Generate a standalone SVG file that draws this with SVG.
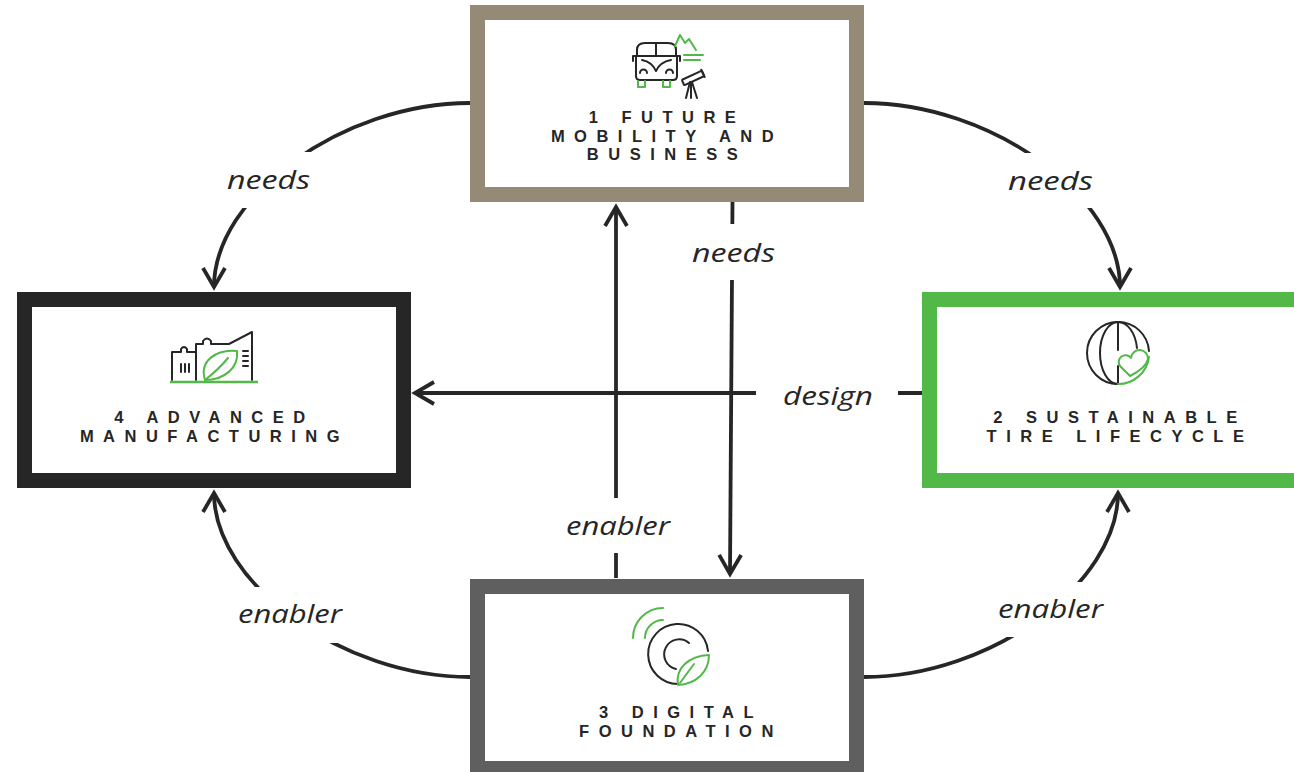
<svg xmlns="http://www.w3.org/2000/svg" width="1294" height="772" viewBox="0 0 1294 772">
<style>
.box{fill:#fff;stroke-width:15}
.title{font-family:"Liberation Sans",Arial,sans-serif;font-weight:bold;font-size:16.5px;letter-spacing:9.5px;fill:#262626;text-anchor:middle}
.lbl{font-family:"Open Sans","Liberation Sans",sans-serif;font-style:italic;font-weight:400;font-size:25px;fill:#262626;text-anchor:middle}
.con{fill:none;stroke:#262626;stroke-width:3.8}
.halo{fill:#fff}
.ik{fill:none;stroke:#262626;stroke-width:2;stroke-linecap:round;stroke-linejoin:round}
.ig{fill:none;stroke:#52b848;stroke-width:2;stroke-linecap:round;stroke-linejoin:round}
</style>
<defs>
<marker id="arr" markerUnits="userSpaceOnUse" markerWidth="30" markerHeight="30" viewBox="-25 -15 30 30" refX="0" refY="0" orient="auto" overflow="visible">
<path d="M-19,-11 L0,0 L-19,11" fill="none" stroke="#262626" stroke-width="3.8"/>
</marker>
</defs>
<rect width="1294" height="772" fill="#fff"/>
<g id="connectors">
<path class="con" d="M470,103 C342,103 214,196.5 214,287" marker-end="url(#arr)"/>
<path class="con" d="M864,103 C992,103 1120,196.5 1120,287" marker-end="url(#arr)"/>
<path class="con" d="M470,677 C342,677 214,583.5 214,493" marker-end="url(#arr)"/>
<path class="con" d="M864,677 C991,677 1118,583.5 1118,493" marker-end="url(#arr)"/>
<path class="con" d="M616,578 L616,207" marker-end="url(#arr)"/>
<path class="con" d="M732.5,202 L730,574" marker-end="url(#arr)"/>
<path class="con" d="M922,393 L415,393" marker-end="url(#arr)"/>
<rect class="halo" x="222" y="152" width="94" height="56"/>
<rect class="halo" x="1003" y="153" width="95" height="55"/>
<rect class="halo" x="687" y="224" width="92" height="56"/>
<rect class="halo" x="756" y="376" width="142" height="34"/>
<rect class="halo" x="560" y="498" width="115" height="55"/>
<rect class="halo" x="232" y="587" width="116" height="56"/>
<rect class="halo" x="992" y="582" width="116" height="55"/>
<text class="lbl" x="268.5" y="189" textLength="83" lengthAdjust="spacingAndGlyphs">needs</text>
<text class="lbl" x="1050.5" y="190" textLength="85" lengthAdjust="spacingAndGlyphs">needs</text>
<text class="lbl" x="733.5" y="262" textLength="83" lengthAdjust="spacingAndGlyphs">needs</text>
<text class="lbl" x="828" y="405" textLength="90" lengthAdjust="spacingAndGlyphs">design</text>
<text class="lbl" x="618" y="535" textLength="104" lengthAdjust="spacingAndGlyphs">enabler</text>
<text class="lbl" x="290" y="623" textLength="104" lengthAdjust="spacingAndGlyphs">enabler</text>
<text class="lbl" x="1050.5" y="618" textLength="105" lengthAdjust="spacingAndGlyphs">enabler</text>
</g>
<g id="node-1">
<rect class="box" x="477.5" y="12.5" width="379" height="182" stroke="#948a75"/>
<g id="icon-1">
<path class="ik" d="M637,55 V50 Q637,43 645,43 H668 Q676,43 676,50 V55"/>
<path class="ik" d="M633,56 H680 M633,56 V61 M680,56 V61"/>
<path class="ik" d="M656,43 V55"/>
<path class="ik" d="M636,56 V76 Q636,80 640,80 H673 Q677,80 677,76 V56"/>
<path class="ik" d="M642,60 Q652,62 656,71 Q660,62 671,60"/>
<path class="ik" d="M640,73 A3.5,3.5 0 0 1 647,73 M666,73 A3.5,3.5 0 0 1 673,73"/>
<path class="ig" d="M638,81 V87 H645 V81 M663,81 V87 H670 V81"/>
<path class="ig" d="M675,46 L680,35 L685,43 L689,39 L696,50"/>
<path class="ig" d="M684,55 H703 M684,60 H700"/>
<g transform="translate(693,78) rotate(-25)">
<rect class="ik" x="-11" y="-3" width="22" height="6" rx="1"/>
<path class="ik" d="M11,-4 V4"/>
</g>
<path class="ik" d="M690,82 L686,98 M691,82 V98 M692,82 L697,98"/>
</g>
<text class="title" x="667" y="123">1 FUTURE</text>
<text class="title" x="667" y="141.5">MOBILITY AND</text>
<text class="title" x="667" y="160">BUSINESS</text>
</g>
<g id="node-4">
<rect class="box" x="24.5" y="299.5" width="379" height="181" stroke="#262626"/>
<g id="icon-4">
<path class="ik" d="M172,380 V352 H181 V349 Q184,345 187,349 V352 H196"/>
<path class="ik" d="M196,380 V344 H203 V341 Q207,336 211,341 V344 H229 L252,332 V380"/>
<path class="ik" d="M181,364 V372 M185,364 V372 M189,364 V372"/>
<path class="ik" d="M243,351 H248 M243,356 H248 M243,361 H248 M243,366 H248"/>
<path class="ig" d="M205,380 C199,361 216,349 237,351 C239,368 224,380 205,380 Z"/>
<path class="ig" d="M205,380 Q219,369 228,358"/>
<path d="M170,382 H258" stroke="#52b848" stroke-width="2.5"/>
</g>
<text class="title" x="214.5" y="423">4 ADVANCED</text>
<text class="title" x="214.5" y="442">MANUFACTURING</text>
</g>
<g id="node-2">
<rect class="box" x="929.5" y="299.5" width="379" height="181" stroke="#52b848"/>
<g id="icon-2">
<path class="ik" d="M1118,384 A31,31 0 0 1 1118,322 A31,31 0 0 1 1149,351"/>
<path class="ik" d="M1118,322 V350 M1118,366 V384"/>
<path class="ik" d="M1118,322 A18,31 0 0 0 1118,384"/>
<path class="ik" d="M1118,322 A19,31 0 0 1 1137,348"/>
<path class="ig" d="M1149,357 A31,31 0 0 1 1118,384"/>
<path class="ig" d="M1130,376 L1120,366 A6.5,6.5 0 0 1 1131,358 A7.5,7.5 0 0 1 1148,359 Q1146,368 1130,376"/>
</g>
<text class="title" x="1120" y="423">2 SUSTAINABLE</text>
<text class="title" x="1120" y="442">TIRE LIFECYCLE</text>
</g>
<g id="node-3">
<rect class="box" x="477.5" y="586.5" width="379" height="182" stroke="#5f5f5f"/>
<g id="icon-3">
<path class="ik" d="M708,651 A30,30 0 1 0 678,684"/>
<path class="ik" d="M689,643 A15,15 0 1 0 676,669"/>
<path class="ig" d="M633,638 A30,30 0 0 1 663,608 M645,638 A18,18 0 0 1 663,620"/>
<path class="ig" d="M678,685 C675,668 689,656 709,655 C709,672 696,684 678,685 Z"/>
<path class="ig" d="M680,683 Q688,672 694,664"/>
</g>
<text class="title" x="681" y="718">3 DIGITAL</text>
<text class="title" x="681" y="737">FOUNDATION</text>
</g>
</svg>
